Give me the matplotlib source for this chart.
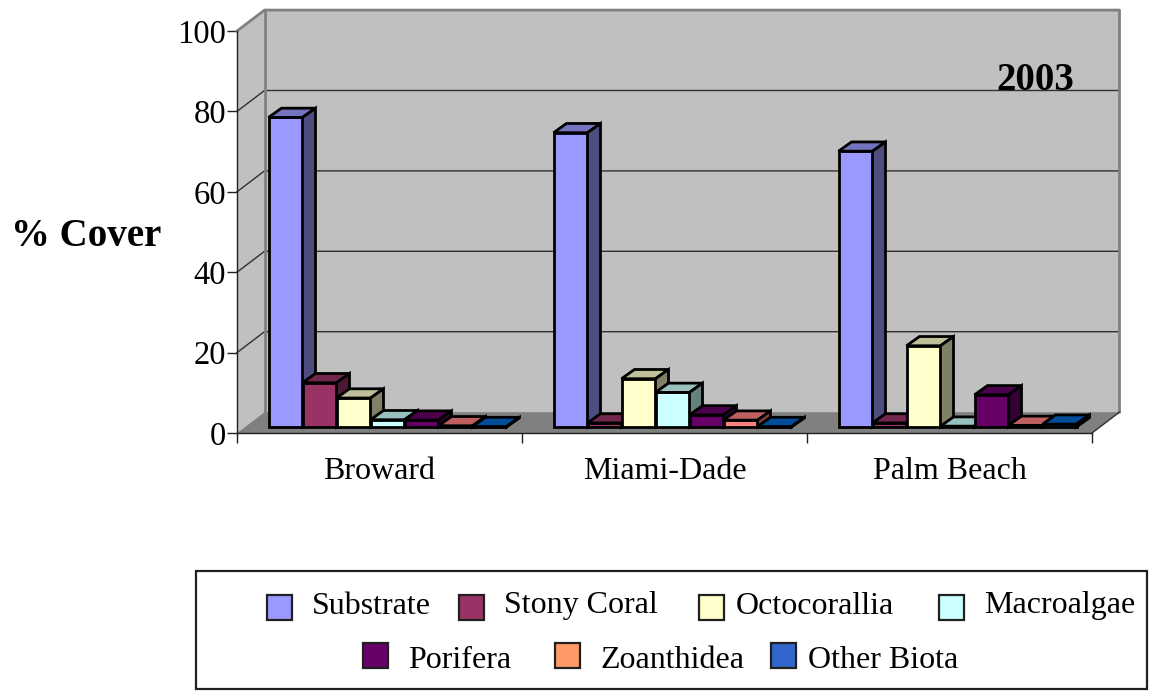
import matplotlib
matplotlib.use("Agg")
import matplotlib.pyplot as plt
from matplotlib.patches import Polygon, Rectangle
from matplotlib.transforms import Affine2D
from matplotlib.colors import to_rgb

counties = ["Broward", "Miami-Dade", "Palm Beach"]
groups = ["Substrate", "Stony Coral", "Octocorallia", "Macroalgae",
          "Porifera", "Zoanthidea", "Other Biota"]
substrate = [77, 73.2, 68.6]
stony_coral = [11, 1, 1]
octocorallia = [7.2, 12, 20.2]
macroalgae = [1.8, 8.6, 0.2]
porifera = [1.7, 3, 8]
zoanthidea = [0.3, 1.7, 0.4]
other_biota = [0.1, 0.1, 0.7]
series = [substrate, stony_coral, octocorallia, macroalgae,
          porifera, zoanthidea, other_biota]
colors = ["#9999FF", "#993366", "#FFFFCC", "#CCFFFF", "#660066", "#FF8080", "#0066CC"]
legend_colors = ["#9999FF", "#993366", "#FFFFCC", "#CCFFFF", "#660066", "#FF9966", "#3366CC"]
yticks = [0, 20, 40, 60, 80, 100]

plt.rcParams["font.family"] = ["Liberation Serif", "DejaVu Serif"]
W, H = 1155, 692
fig = plt.figure(figsize=(W / 100, H / 100), dpi=100)
ax = fig.add_axes([237 / W, (H - 433) / H, 855 / W, 402 / H])
ax.set_xlim(-0.5, 2.5)
ax.set_ylim(0, 100)
ax.patch.set_visible(False)

# oblique offsets of the 3d box, in data units
DX, DY = 27.5 / 285, 5.2
BAR_W = 34 / 285
BAR_DX, BAR_DY = 13 / 285, 2.3
OFF_X, OFF_Y = 8 / 285, 1.5


def poly(pts, fc, ec="none", lw=0, z=1):
    ax.add_patch(Polygon(pts, closed=True, facecolor=fc, edgecolor=ec, linewidth=lw,
                         zorder=z, clip_on=False, joinstyle="miter"))


def shade(c, f):
    return tuple(v * f for v in to_rgb(c))


x0, x1 = -0.5, 2.5
# walls and floor
poly([(x0 + DX, DY), (x1 + DX, DY), (x1 + DX, 100 + DY), (x0 + DX, 100 + DY)], "#C0C0C0")
poly([(x0, 0), (x0 + DX, DY), (x0 + DX, 100 + DY), (x0, 100)], "#C0C0C0")
poly([(x0, 0), (x1, 0), (x1 + DX, DY), (x0 + DX, DY)], "#808080")
for t in yticks[1:-1]:
    ax.plot([x0, x0 + DX, x1 + DX], [t, t + DY, t + DY], color="#303030", lw=1.0, zorder=1.5, clip_on=False)
ax.plot([x0, x0 + DX, x1 + DX, x1 + DX], [100, 100 + DY, 100 + DY, DY], color="#808080", lw=2, zorder=1.6, clip_on=False)
ax.plot([x0 + DX, x0 + DX], [DY, 100 + DY], color="#808080", lw=2, zorder=1.6, clip_on=False)
ax.plot([x1, x1 + DX], [0, DY], color="#303030", lw=1.0, zorder=1.6, clip_on=False)

# bars
for i in range(len(counties)):
    for j, vals in enumerate(series):
        v = vals[i]
        left = i - 3.5 * BAR_W + OFF_X + j * BAR_W
        right = left + BAR_W
        base = OFF_Y
        top = base + v
        z = 2 + i + j * 0.01
        kw = dict(ec="black", lw=2.0, z=z)
        poly([(left, base), (right, base), (right, top), (left, top)], colors[j], **kw)
        poly([(left, top), (right, top), (right + BAR_DX, top + BAR_DY), (left + BAR_DX, top + BAR_DY)],
             shade(colors[j], 0.75), **kw)
        poly([(right, base), (right + BAR_DX, base + BAR_DY), (right + BAR_DX, top + BAR_DY), (right, top)],
             shade(colors[j], 0.5), **kw)

# axes
for s in ["top", "right"]:
    ax.spines[s].set_visible(False)
for s in ["left", "bottom"]:
    ax.spines[s].set_linewidth(1.0)
    ax.spines[s].set_color("#202020")
ax.set_yticks(yticks)
ax.set_xticks(range(len(counties)))
ax.set_xticklabels(counties)
ax.set_xticks([-0.5, 0.5, 1.5, 2.5], minor=True)
ax.tick_params(axis="x", which="major", length=0, pad=17, labelsize=23)
ax.tick_params(axis="x", which="minor", length=7.5, width=1.0, color="#202020")
ax.tick_params(axis="y", length=7, width=1.0, color="#202020", pad=1, labelsize=23.5)

# pixel positioned text and legend, origin top left like the image
px = Affine2D().scale(1, -1).translate(0, H)
fig.text(86, 236, "% Cover", transform=px, fontsize=28, fontweight="bold", ha="center", va="center")
fig.text(1035, 81, "2003", transform=px, fontsize=28, fontweight="bold", ha="center", va="center")

fig.add_artist(Rectangle((196, 571), 951, 118, transform=px, facecolor="white", edgecolor="#202020", linewidth=1.6))
swatches = [(267, 312), (459, 504), (699, 736), (939, 984), (363, 408), (555, 600), (771, 808)]
rows = [(595, 606), (595, 606), (595, 606), (595, 606), (643, 660), (643, 660), (643, 660)]
for name, c, (sx, tx), (sy, ty) in zip(groups, legend_colors, swatches, rows):
    fig.add_artist(Rectangle((sx, sy), 25, 25, transform=px, facecolor=c, edgecolor="#202020", linewidth=1.6))
    fig.text(tx, ty, name, transform=px, fontsize=23, ha="left", va="center")

fig.savefig("out.png", dpi=100)
